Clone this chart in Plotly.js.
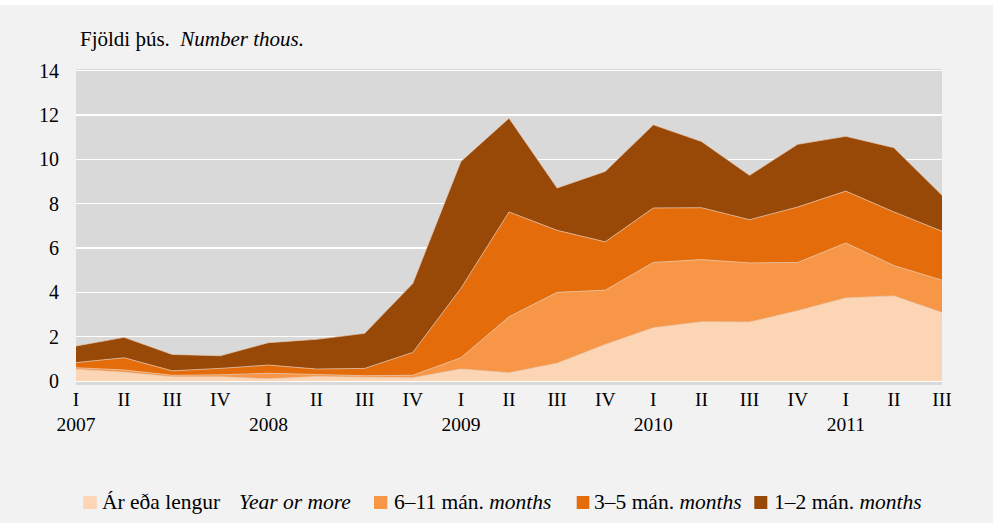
<!DOCTYPE html>
<html>
<head>
<meta charset="utf-8">
<script src="https://cdn.plot.ly/plotly-3.0.1.min.js"></script>
<style>
  html, body { margin: 0; padding: 0; background: #ffffff; }
  #chart { position: absolute; left: 0; top: 5px; width: 993px; height: 518px; }
</style>
</head>
<body>
<div id="chart"></div>
<script>
// Quarters 2007 Q1 – 2011 Q3
const quarters = ["I","II","III","IV","I","II","III","IV","I","II","III","IV","I","II","III","IV","I","II","III"];
const years    = ["2007","","","","2008","","","","2009","","","","2010","","","","2011","",""];

// Values, thousands (stacked components)
const yearOrMore = [0.53, 0.39, 0.19, 0.19, 0.10, 0.20, 0.17, 0.15, 0.54, 0.37, 0.80, 1.65, 2.40, 2.67, 2.66, 3.17, 3.75, 3.84, 3.09];
const months6to11 = [0.07, 0.11, 0.07, 0.09, 0.25, 0.09, 0.07, 0.11, 0.51, 2.53, 3.20, 2.45, 2.95, 2.81, 2.67, 2.18, 2.48, 1.37, 1.46];
const months3to5 = [0.23, 0.55, 0.20, 0.29, 0.37, 0.25, 0.33, 1.03, 3.13, 4.73, 2.80, 2.18, 2.46, 2.34, 1.95, 2.50, 2.34, 2.42, 2.21];
const months1to2 = [0.75, 0.92, 0.74, 0.57, 1.01, 1.34, 1.58, 3.11, 5.73, 4.23, 1.91, 3.18, 3.75, 2.99, 2.00, 2.83, 2.47, 2.90, 1.62];

const seriesNames = ["Ár eða lengur", "6–11 mán.", "3–5 mán.", "1–2 mán."];
const seriesEn = ["Year or more", "months", "months", "months"];
const colors = ["#FCD5B5", "#F79646", "#E46C0A", "#984807"];

const idx = quarters.map((_, i) => i);
const tickText = quarters.map((q, i) => years[i] ? q + "<br>" + years[i] : q);

const seriesData = [yearOrMore, months6to11, months3to5, months1to2];
const traces = seriesData.map((vals, k) => ({
  type: "scatter",
  mode: "lines",
  x: idx,
  y: vals,
  name: seriesNames[k],
  stackgroup: "one",
  fillcolor: colors[k],
  line: { width: 0.7, color: "#E9CDB8", shape: "linear" },
  showlegend: false,
  hoverinfo: "x+y+name"
}));

// pixel helpers for layout decorations (plot area 76..942 x 69..385 in page coords, div starts at y=5)
const PL = 76, PR = 942, PT = 69, PB = 385;
const px = v => (v - PL) / (PR - PL);
const py = v => (PB - v) / (PB - PT);

const serif = "Times New Roman, Liberation Serif, DejaVu Serif, serif";

const legendSw = [[83.3, 96.7], [374, 387.3], [576.7, 589.3], [754.3, 767.3]];
const legendText = [
  [100, seriesNames[0]],
  [236.7, "<i>" + seriesEn[0] + "</i>"],
  [391.7, seriesNames[1] + " <i>" + seriesEn[1] + "</i>"],
  [591.7, seriesNames[2] + " <i>" + seriesEn[2] + "</i>"],
  [771.7, seriesNames[3] + " <i>" + seriesEn[3] + "</i>"]
];

const shapes = legendSw.map((s, k) => ({
  type: "rect", xref: "paper", yref: "paper",
  x0: px(s[0]), x1: px(s[1]), y0: py(509), y1: py(496),
  fillcolor: colors[k], line: { width: 0 }
}));

const annotations = legendText.map(t => ({
  xref: "paper", yref: "paper",
  x: px(t[0]), y: py(502),
  xanchor: "left", yanchor: "middle",
  text: t[1], showarrow: false,
  font: { family: serif, size: 21.5, color: "#000000" }
}));

const layout = {
  width: 993, height: 518,
  paper_bgcolor: "#F2F2F2",
  plot_bgcolor: "#D9D9D9",
  margin: { l: 76, r: 51, t: 64, b: 138, pad: 0 },
  font: { family: serif, color: "#000000" },
  title: {
    text: "Fjöldi þús.  <i>Number thous.</i>",
    xref: "container", yref: "container",
    x: 80 / 993, xanchor: "left",
    y: 1 - (39 - 5) / 518, yanchor: "middle",
    font: { family: serif, size: 21, color: "#000000" }
  },
  xaxis: {
    range: [0, 18],
    tickmode: "array",
    tickvals: idx,
    ticktext: tickText,
    showgrid: false,
    zeroline: false,
    showline: false,
    ticks: "",
    ticklabelstandoff: 0,
    tickfont: { family: serif, size: 19.5, color: "#000000" },
    fixedrange: true
  },
  yaxis: {
    range: [-0.18, 14.08],
    tickmode: "array",
    tickvals: [0, 2, 4, 6, 8, 10, 12, 14],
    showgrid: true,
    gridcolor: "#FFFFFF",
    gridwidth: 1.3,
    zeroline: false,
    showline: false,
    ticks: "",
    ticklabelstandoff: 16,
    tickfont: { family: serif, size: 20, color: "#000000" },
    fixedrange: true
  },
  shapes: shapes,
  annotations: annotations,
  showlegend: false
};

Plotly.newPlot("chart", traces, layout, { displayModeBar: false, staticPlot: true });
</script>
</body>
</html>
